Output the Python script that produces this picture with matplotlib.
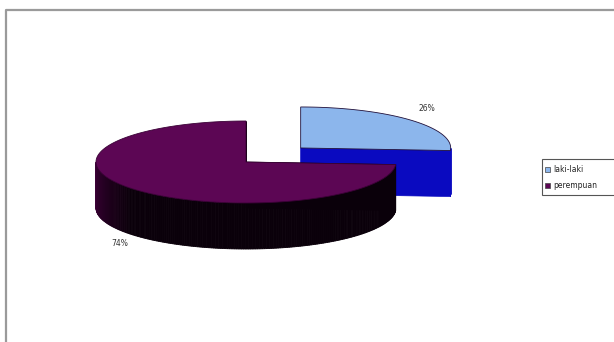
import numpy as np
import matplotlib
matplotlib.use('Agg')
import matplotlib.pyplot as plt
from matplotlib.patches import Polygon, Rectangle

# datos
labels = ['laki-laki', 'perempuan']
values = [26, 74]
pct_labels = ['26%', '74%']

# estilo
top_colors = ['#8cb6ec', '#5c0654']
side_colors = ['#0a0ac0', '#0a000a']
explode = [0.5, 0.0]

# geometria del pastel 3D (pixeles)
cx, cy = 246, 162
a, b = 150, 41
depth = 46

fig = plt.figure(figsize=(6.14, 3.42), dpi=100)
ax = fig.add_axes([0, 0, 1, 1])
ax.set_xlim(0, 614)
ax.set_ylim(342, 0)
ax.axis('off')

# marco del grafico
ax.plot([6, 6, 614], [342, 10, 10], color='#9a9a9a', lw=1.6)


def pt(x0, y0, t, dz=0):
    return (x0 + a * np.cos(np.radians(t)), y0 - b * np.sin(np.radians(t)) + dz)


total = sum(values)
cum = 0
slices = []
for v in values:
    t1 = 90 - cum / total * 360
    t0 = 90 - (cum + v) / total * 360
    cum += v
    slices.append((t0, t1))

# dibujar de atras hacia adelante: primero el trozo separado
for i in [0, 1]:
    t0, t1 = slices[i]
    mid = np.radians((t0 + t1) / 2)
    ox = cx + explode[i] * a * np.cos(mid)
    oy = cy - explode[i] * b * np.sin(mid)

    # caras radiales
    for t in (t0, t1):
        p = pt(ox, oy, t)
        quad = [(ox, oy), p, (p[0], p[1] + depth), (ox, oy + depth)]
        ax.add_patch(Polygon(quad, closed=True, fc=side_colors[i],
                             ec=side_colors[i], lw=0.5))

    # pared exterior (solo la parte frontal)
    ts = np.linspace(t0, t1, 300)
    for k in range(len(ts) - 1):
        ta, tb = ts[k], ts[k + 1]
        if np.sin(np.radians((ta + tb) / 2)) > 0:
            continue
        pa, pb = pt(ox, oy, ta), pt(ox, oy, tb)
        seg = [pa, pb, (pb[0], pb[1] + depth), (pa[0], pa[1] + depth)]
        col = side_colors[i]
        if i == 1:
            # sombra: morado oscuro a la izquierda, negro hacia el frente
            f = np.clip((ta % 360 - 180) / 40, 0, 1)
            c0 = np.array([0.24, 0.0, 0.22])
            c1 = np.array([0.04, 0.0, 0.04])
            col = tuple(c0 * (1 - f) + c1 * f)
        ax.add_patch(Polygon(seg, closed=True, fc=col, ec=col, lw=0.6))

    # cara superior
    top = [(ox, oy)] + [pt(ox, oy, t) for t in ts]
    ax.add_patch(Polygon(top, closed=True, fc=top_colors[i],
                         ec='#20103a' if i == 0 else '#3a0236', lw=0.6))

    # etiqueta de porcentaje
    lx = ox + 1.15 * a * np.cos(mid)
    ly = oy - 1.15 * b * np.sin(mid)
    if np.sin(mid) < 0:
        ax.text(lx, ly + depth - 1, pct_labels[i], fontsize=5.5, color='#333333',
                ha='center', va='top')
    else:
        ax.text(lx, ly - 3, pct_labels[i], fontsize=5.5, color='#333333',
                ha='center', va='bottom')

# leyenda
ax.add_patch(Rectangle((542, 159), 80, 36, fc='white', ec='#555555', lw=0.8))
for j, lab in enumerate(labels):
    y = 169 + j * 16
    ax.add_patch(Rectangle((545, y - 2.5), 5, 5, fc=top_colors[j], ec='#444444', lw=0.5))
    ax.text(553, y, lab, fontsize=5.5, color='#222222', va='center', ha='left')

fig.savefig('out.png', dpi=100)
